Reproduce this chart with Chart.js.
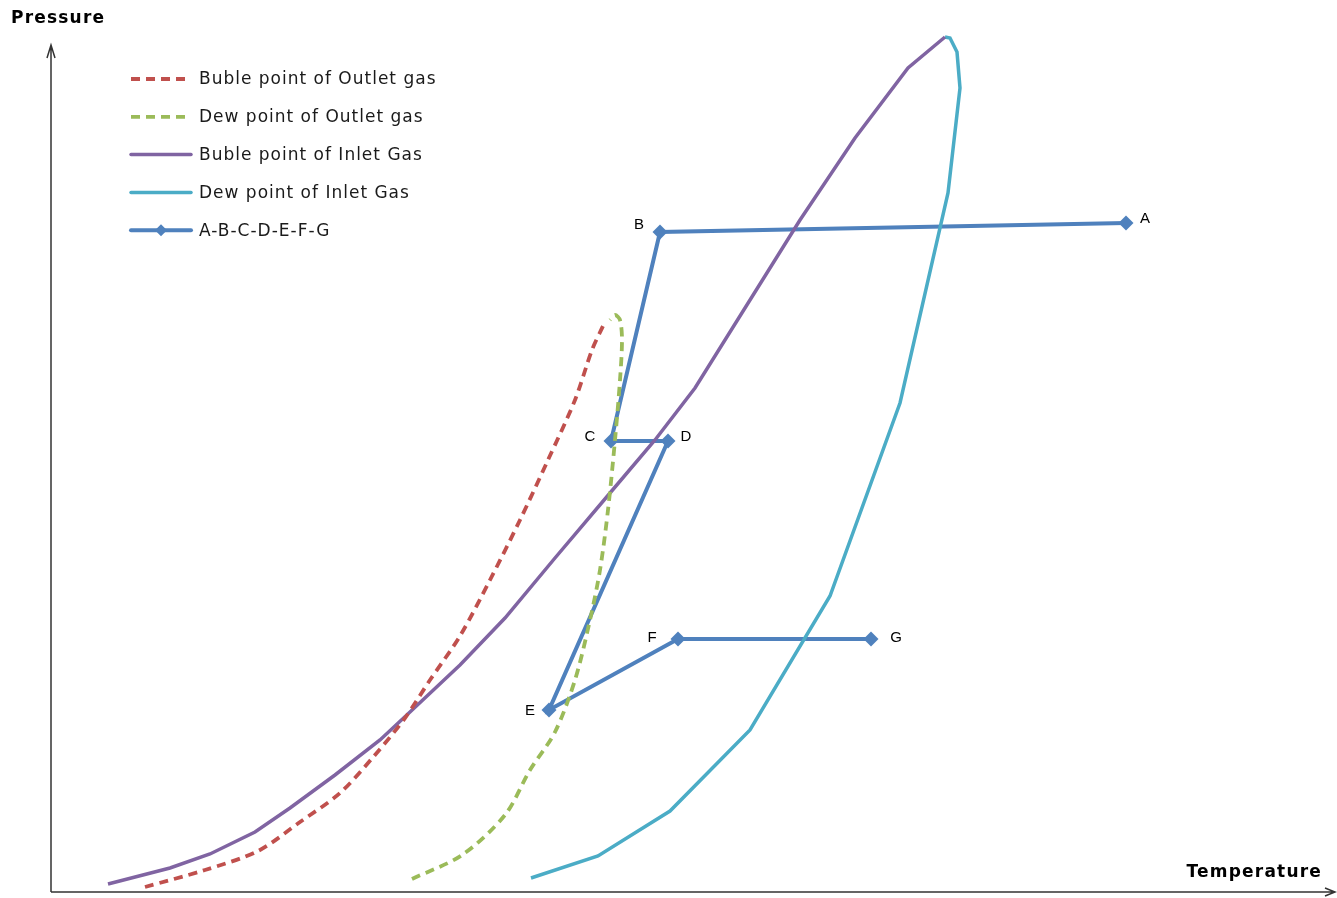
<!DOCTYPE html>
<html>
<head>
<meta charset="utf-8">
<script src="https://cdn.jsdelivr.net/npm/chart.js@4/dist/chart.umd.min.js"></script>
<style>
  html, body { margin: 0; padding: 0; background: #fff; overflow: hidden; }
  canvas { display: block; }
</style>
</head>
<body>
<canvas id="phaseChart" width="1337" height="898"></canvas>
<script>
// Values (arbitrary units, no ticks on the original)
const outletBubleT = [94, 154, 207, 249, 289, 324, 354, 379, 409, 439, 469, 497, 524, 541, 552];
const outletBubleP = [5, 22, 41, 70, 99, 137, 174, 212, 256, 312, 372, 432, 492, 542, 566];

const outletDewT = [361, 411, 454, 479, 504, 524, 539, 549, 557, 564, 569, 571, 569, 564, 559];
const outletDewP = [13, 37, 77, 122, 160, 212, 272, 322, 382, 452, 512, 552, 572, 577, 572];

const inletBubleT = [57, 119, 159, 204, 239, 284, 329, 359, 409, 454, 504, 559, 604, 644, 699, 749, 804, 857, 894];
const inletBubleP = [8, 24, 38, 60, 84, 117, 152, 180, 227, 274, 334, 399, 452, 504, 592, 672, 754, 824, 855];

const inletDewT = [480, 547, 619, 699, 779, 849, 897, 909, 906, 899, 894];
const inletDewP = [14, 36, 81, 162, 296, 489, 699, 804, 840, 854, 855];

const pathLabels = ["A", "B", "C", "D", "E", "F", "G"];
const pathT = [1075, 609, 560, 617, 498, 627, 820];
const pathP = [669, 660, 451, 451, 182, 253, 253];

const seriesNames = [
  "Buble point of Outlet gas",
  "Dew point of Outlet gas",
  "Buble point of Inlet Gas",
  "Dew point of Inlet Gas",
  "A-B-C-D-E-F-G"
];

function toPoints(xs, ys) {
  return xs.map((x, i) => ({ x: x, y: ys[i] }));
}

// axis arrows + axis titles
const axesPlugin = {
  id: "axesArrows",
  beforeDatasetsDraw(chart) {
    const ctx = chart.ctx;
    const a = chart.chartArea;
    ctx.save();
    ctx.strokeStyle = "#333";
    ctx.lineWidth = 1.5;
    ctx.beginPath();
    ctx.moveTo(a.left, a.bottom);
    ctx.lineTo(a.left, a.top + 1);
    ctx.moveTo(a.left - 4, a.top + 14);
    ctx.lineTo(a.left, a.top + 1);
    ctx.lineTo(a.left + 4, a.top + 14);
    ctx.moveTo(a.left, a.bottom);
    ctx.lineTo(a.right - 2, a.bottom);
    ctx.moveTo(a.right - 12, a.bottom - 4);
    ctx.lineTo(a.right - 2, a.bottom);
    ctx.lineTo(a.right - 12, a.bottom + 4);
    ctx.stroke();

    ctx.fillStyle = "#000";
    ctx.font = "bold 17px 'DejaVu Sans'";
    ctx.letterSpacing = "1.2px";
    ctx.textBaseline = "middle";
    ctx.textAlign = "left";
    ctx.fillText("Pressure", 11, 19);
    ctx.textAlign = "right";
    ctx.fillText("Temperature", 1322, 873);
    ctx.restore();
  }
};

// point names next to A..G
const labelOffsets = [[19, -4], [-21, -7], [-21, -4], [18, -4], [-19, 1], [-26, -1], [25, -1]];
const pathLabelPlugin = {
  id: "pathLabels",
  afterDatasetsDraw(chart) {
    const ctx = chart.ctx;
    const meta = chart.getDatasetMeta(4);
    ctx.save();
    ctx.fillStyle = "#000";
    ctx.font = "15px 'Liberation Sans'";
    ctx.textAlign = "center";
    ctx.textBaseline = "middle";
    meta.data.forEach((pt, i) => {
      ctx.fillText(pathLabels[i], pt.x + labelOffsets[i][0], pt.y + labelOffsets[i][1]);
    });
    ctx.restore();
  }
};

// legend in the upper left, Excel style
const legendPlugin = {
  id: "cornerLegend",
  afterDraw(chart) {
    const ctx = chart.ctx;
    ctx.save();
    chart.data.datasets.forEach((ds, i) => {
      const y = 79 + i * 37.8;
      ctx.strokeStyle = ds.borderColor;
      ctx.lineWidth = ds.borderWidth;
      ctx.setLineDash(ds.borderDash || []);
      ctx.lineCap = ds.borderDash ? "butt" : "round";
      ctx.beginPath();
      ctx.moveTo(131, y);
      ctx.lineTo(ds.borderDash ? 190 : 191, y);
      ctx.stroke();
      ctx.setLineDash([]);
      if (ds.pointRadius) {
        ctx.fillStyle = ds.backgroundColor;
        ctx.beginPath();
        ctx.moveTo(161, y - 6);
        ctx.lineTo(167, y);
        ctx.lineTo(161, y + 6);
        ctx.lineTo(155, y);
        ctx.closePath();
        ctx.fill();
      }
      ctx.fillStyle = "#1a1a1a";
      ctx.font = "17px 'DejaVu Sans'";
      ctx.letterSpacing = "1px";
      ctx.textAlign = "left";
      ctx.textBaseline = "middle";
      ctx.fillText(ds.label, 199, y + 1);
    });
    ctx.restore();
  }
};

new Chart(document.getElementById("phaseChart"), {
  type: "scatter",
  data: {
    datasets: [
      {
        label: seriesNames[0],
        data: toPoints(outletBubleT, outletBubleP),
        showLine: true,
        borderColor: "#C0504D",
        backgroundColor: "#C0504D",
        borderWidth: 3.8,
        borderDash: [9, 6],
        pointRadius: 0,
        tension: 0.3
      },
      {
        label: seriesNames[1],
        data: toPoints(outletDewT, outletDewP),
        showLine: true,
        borderColor: "#9BBB59",
        backgroundColor: "#9BBB59",
        borderWidth: 3.8,
        borderDash: [9, 6],
        pointRadius: 0,
        tension: 0.3
      },
      {
        label: seriesNames[2],
        data: toPoints(inletBubleT, inletBubleP),
        showLine: true,
        borderColor: "#8064A2",
        backgroundColor: "#8064A2",
        borderWidth: 3.5,
        pointRadius: 0,
        tension: 0
      },
      {
        label: seriesNames[3],
        data: toPoints(inletDewT, inletDewP),
        showLine: true,
        borderColor: "#4BACC6",
        backgroundColor: "#4BACC6",
        borderWidth: 3.5,
        pointRadius: 0,
        tension: 0
      },
      {
        label: seriesNames[4],
        data: toPoints(pathT, pathP),
        showLine: true,
        borderColor: "#4F81BD",
        backgroundColor: "#4F81BD",
        borderWidth: 4,
        pointStyle: "rectRot",
        pointRadius: 7.5,
        pointBorderWidth: 0,
        tension: 0
      }
    ]
  },
  plugins: [axesPlugin, pathLabelPlugin, legendPlugin],
  options: {
    responsive: false,
    animation: false,
    clip: false,
    layout: { autoPadding: false, padding: { left: 51, top: 44, right: 0, bottom: 6 } },
    plugins: {
      legend: { display: false },
      tooltip: { enabled: false }
    },
    scales: {
      x: { type: "linear", min: 0, max: 1286, display: false },
      y: { type: "linear", min: 0, max: 848, display: false }
    }
  }
});
</script>
</body>
</html>
